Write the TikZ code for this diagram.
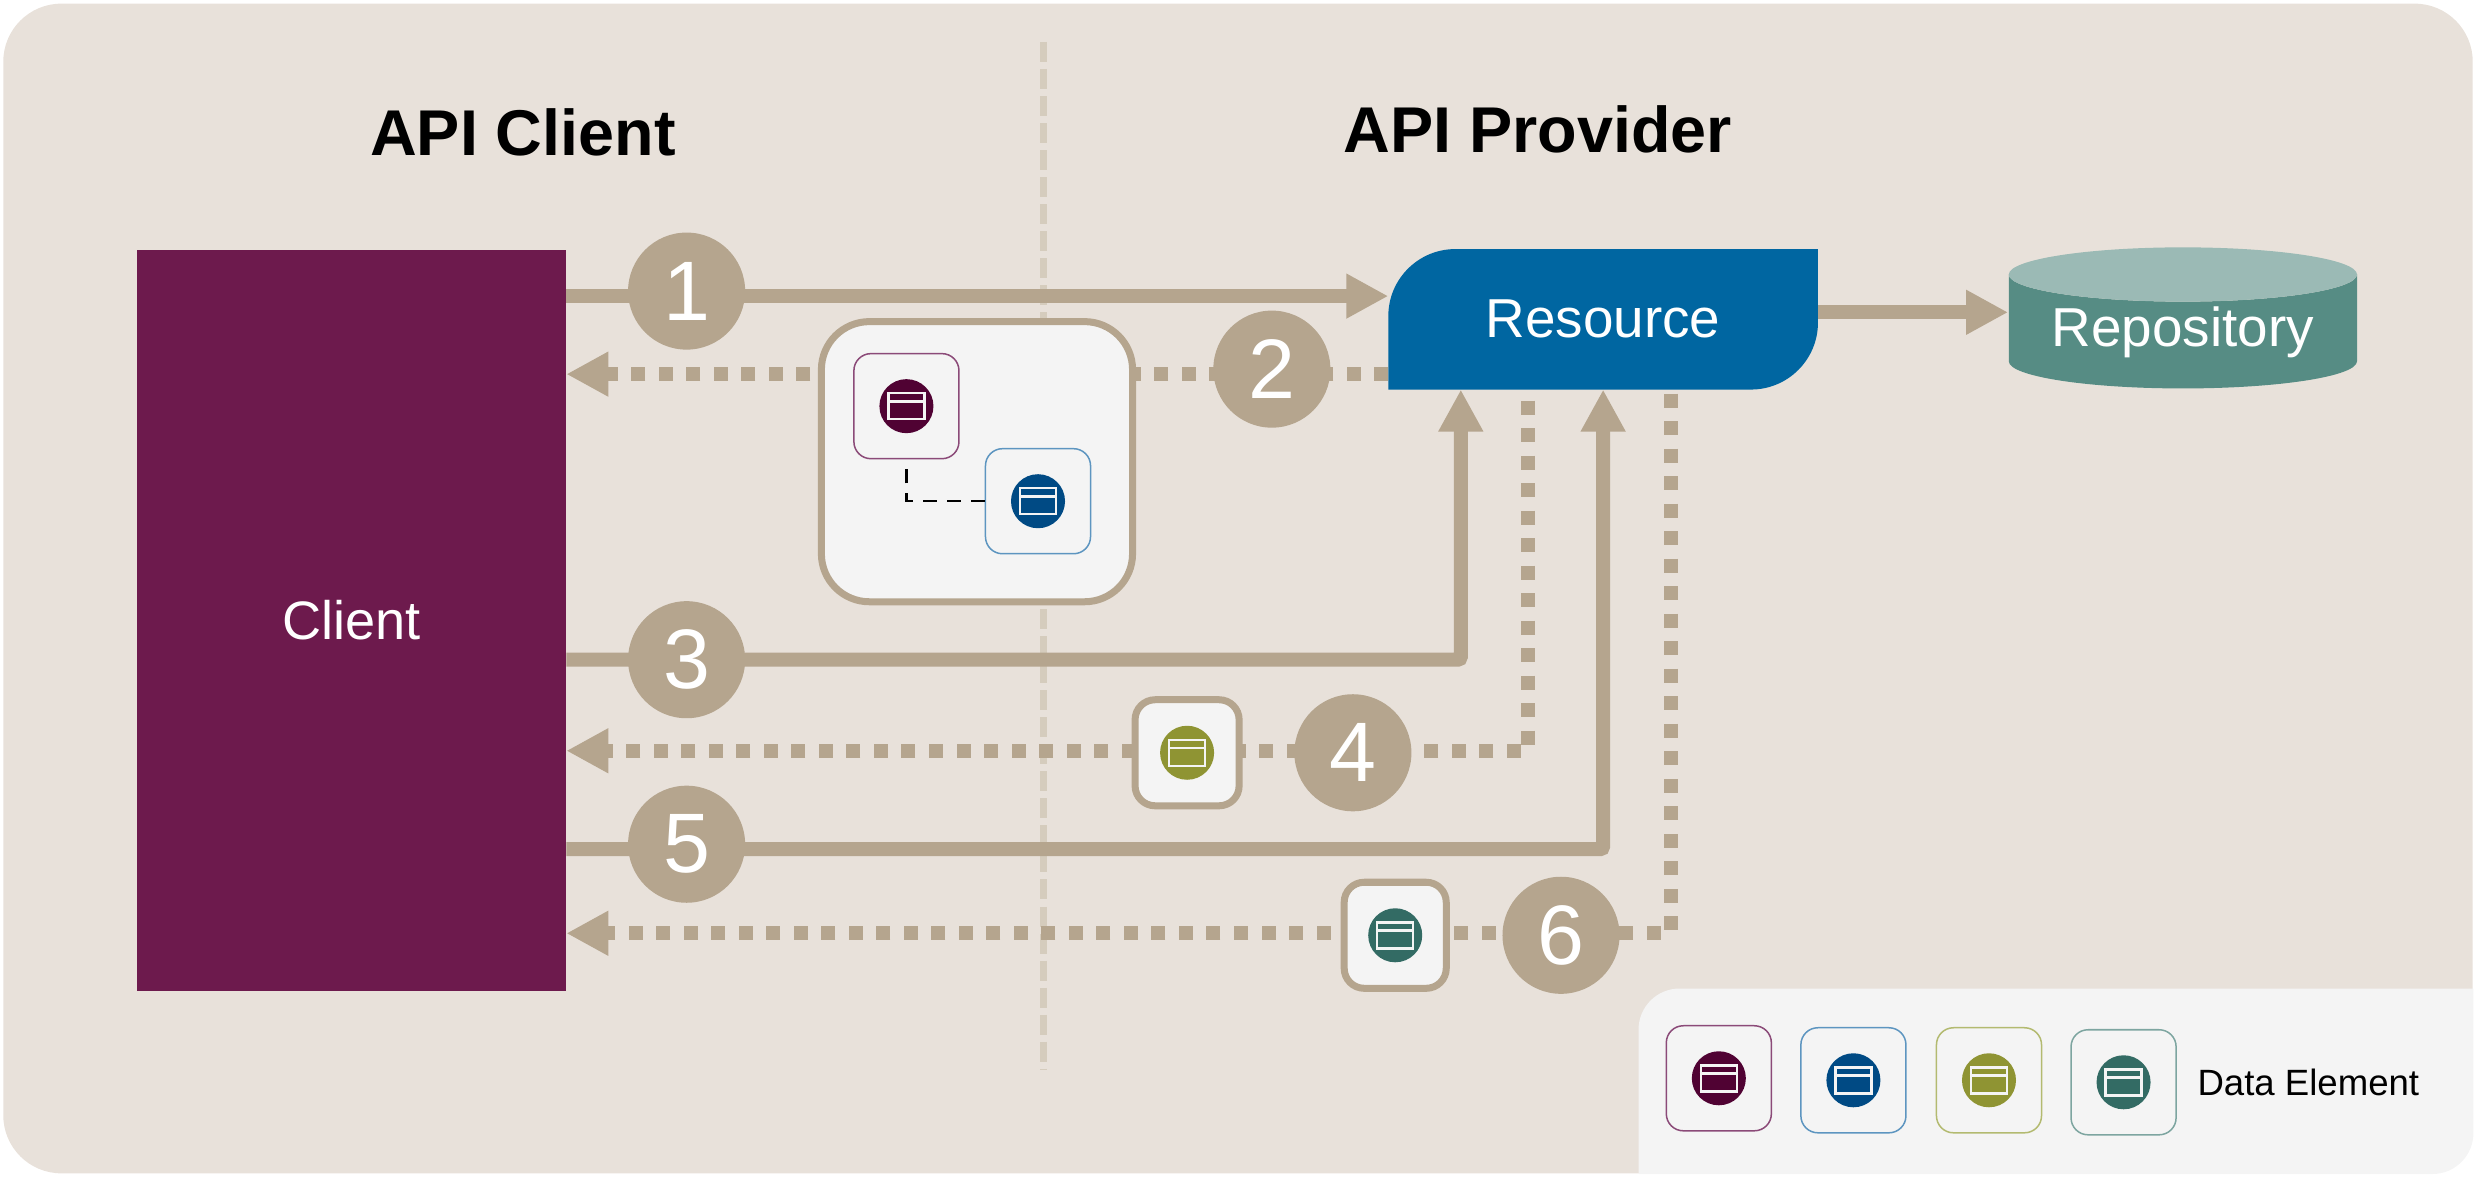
\documentclass[tikz,border=0pt]{standalone}
\usepackage{fontspec}
\setmainfont{Liberation Sans}
\usetikzlibrary{positioning,calc,arrows.meta,shapes.geometric,backgrounds}

\definecolor{sandbg}{HTML}{E8E1DA}
\definecolor{flowtan}{HTML}{B5A58E}
\definecolor{seplight}{HTML}{D5CCBD}
\definecolor{panelgray}{HTML}{F4F4F4}
\definecolor{clientplum}{HTML}{6D1A4D}
\definecolor{resblue}{HTML}{0066A1}
\definecolor{repoteal}{HTML}{568C84}
\definecolor{repotop}{HTML}{9BBAB5}
\definecolor{dotplum}{HTML}{500233}
\definecolor{dotblue}{HTML}{004A84}
\definecolor{dotolive}{HTML}{8F9433}
\definecolor{dotteal}{HTML}{336B64}
\definecolor{rimplum}{HTML}{8B4A78}
\definecolor{rimblue}{HTML}{5D95C0}
\definecolor{rimolive}{HTML}{B3BA70}
\definecolor{rimteal}{HTML}{7DA5A0}

% circle with its glyph, centred on a card or holder
\newcommand{\elemdot}[2]{%
  \node[edot, fill=#2] (#1dot) at (#1) {};
  \node[eglyph] (#1glyph) at (#1dot) {};
  \draw[ebar] ($(#1glyph.north west)!0.33!(#1glyph.south west)$) -- ($(#1glyph.north east)!0.33!(#1glyph.south east)$);
}
% card: name, placement, circle colour, rim colour
\newcommand{\elemcard}[4]{%
  \node[card, draw=#4, #2] (#1) {};
  \elemdot{#1}{#3}
}
% box with two opposite corners rounded
\newcommand{\leafshape}[3]{%
  \fill[#2] (#1.south west) [rounded corners=#3] -- (#1.north west) [sharp corners] -- (#1.north east) [rounded corners=#3] -- (#1.south east) [sharp corners] -- (#1.south west) -- cycle;
}

\begin{document}
\begin{tikzpicture}[
    x=0.01cm,
    y=-0.01cm,
    title/.style={font=\fontsize{18.4}{22}\selectfont\bfseries, inner sep=0pt},
    block/.style={text=white, font=\fontsize{15.4}{18}\selectfont, inner sep=0pt},
    num/.style={circle, fill=flowtan, text=white, inner sep=0pt, minimum size=1.17cm, font=\fontsize{24}{28}\selectfont},
    hold/.style={draw=flowtan, fill=panelgray, line width=0.07cm, rounded corners=0.2cm, inner sep=0pt},
    card/.style={fill=panelgray, line width=0.015cm, rounded corners=0.17cm, minimum size=1.05cm, inner sep=0pt},
    edot/.style={circle, minimum size=0.54cm, inner sep=0pt},
    eglyph/.style={draw=panelgray, line width=0.025cm, minimum width=0.36cm, minimum height=0.26cm, inner sep=0pt},
    ebar/.style={draw=panelgray, line width=0.025cm},
    flow/.style={line width=0.14cm, color=flowtan},
    flowtip/.style={flow, -{Triangle[length=0.42cm,width=0.42cm]}},
    dotflow/.style={flowtip, dash pattern=on 0.14cm off 0.135cm},
    sepline/.style={line width=0.07cm, color=seplight, dash pattern=on 0.2cm off 0.07cm}
]
\useasboundingbox (0,0) rectangle (2475,1177);

% ============================================================
% BACKDROP
% ============================================================
\begin{scope}[on background layer]
\node[fill=sandbg, rounded corners=0.58cm, minimum width=24.68cm, minimum height=11.69cm, inner sep=0pt] (bg) at (1238,588.5) {};
\end{scope}

% ============================================================
% MAIN BLOCKS
% ============================================================
\node[title] (clienthead) at (523,132.5) {API Client};
\node[title] (providerhead) at (1538,129) {API Provider};

\node[block, fill=clientplum, minimum width=4.28cm, minimum height=7.41cm] (client) at (351.5,620.5) {Client};
\node[block, minimum width=4.28cm, minimum height=1.39cm, right=8.215cm of client.north east, anchor=north west, font=\fontsize{15.6}{18}\selectfont] (res) {Resource};
\node[block, draw=none, cylinder, shape border rotate=90, aspect=0.207, cylinder uses custom fill, cylinder body fill=repoteal, cylinder end fill=repotop,
      minimum width=3.48cm, minimum height=1.41cm, right=1.9cm of res, yshift=-0.125cm, font=\fontsize{15.6}{18}\selectfont] (repo) {Repository};

% ============================================================
% NUMBERS AND DATA ELEMENTS
% ============================================================
\node[num, right=0.61cm of client.north east, yshift=-0.42cm] (n1) {1};
\node[num, below=2.5cm of n1] (n3) {3};
\node[num, below=0.66cm of n3] (n5) {5};
\node[num, right=4.665cm of n1, yshift=-0.78cm] (n2) {2};
\node[num, right=5.475cm of n3, yshift=-0.93cm] (n4) {4};
\node[num, right=7.555cm of n5, yshift=-0.91cm] (n6) {6};

\node[hold, rounded corners=0.48cm, minimum width=3.11cm, minimum height=2.8cm, left=0.765cm of n2, yshift=-0.925cm] (hold2) {};
\node[hold, minimum width=1.04cm, minimum height=1.06cm, left=0.51cm of n4] (hold4) {};
\node[hold, minimum width=1.02cm, minimum height=1.06cm, left=0.52cm of n6] (hold6) {};

\elemcard{purple2}{at={(hold2)}, xshift=-0.705cm, yshift=0.555cm}{dotplum}{rimplum}
\elemcard{blue2}{at={(hold2)}, xshift=0.61cm, yshift=-0.395cm}{dotblue}{rimblue}
\elemdot{hold4}{dotolive}
\elemdot{hold6}{dotteal}
\draw[black, line width=0.025cm, dash pattern=on 0.14cm off 0.1cm] (blue2.west) -| (purple2.south);

% ============================================================
% LEGEND
% ============================================================
\node[minimum width=8.33cm, minimum height=1.84cm, inner sep=0pt, anchor=south east] (legend) at (bg.south east) {};
\elemcard{legA}{right=0.27cm of legend.west, yshift=0.03cm}{dotplum}{rimplum}
\elemcard{legB}{right=0.28cm of legA, yshift=-0.02cm}{dotblue}{rimblue}
\elemcard{legC}{right=0.29cm of legB}{dotolive}{rimolive}
\elemcard{legD}{right=0.28cm of legC, yshift=-0.02cm}{dotteal}{rimteal}
\node[right=0.2cm of legD, inner sep=0pt, font=\fontsize{10.4}{12}\selectfont] (legtext) {Data Element};

% ============================================================
% CONNECTORS AND SEPARATOR
% ============================================================
\coordinate (septop) at (1043,42);
\coordinate (sepend) at (1043,1070);
\coordinate (y1) at ($(n1)+(0,5)$);
\coordinate (y2) at ($(n2)+(0,5)$);
\coordinate (y4) at ($(n4)+(0,-2)$);
\coordinate (y5) at ($(n5)+(0,5)$);
\coordinate (y6) at ($(n6)+(0,-2)$);
\coordinate (yrepo) at ($(res.east)+(0,-7)$);
\coordinate (res3) at ($(res.south west)+(72.5,0)$);
\coordinate (res4) at ($(res.south west)+(140,0)$);
\coordinate (res6) at ($(res.south west)+(283,0)$);

\begin{scope}[on background layer]
\leafshape{legend}{panelgray}{0.41cm}
\draw[sepline] (septop) -- (sepend);
\leafshape{res}{resblue}{0.67cm}

\draw[flowtip] (client.east |- y1) -- (res.west |- y1);
\draw[dotflow] (res.west |- y2) -- (client.east |- y2);
\draw[flowtip, rounded corners=0.03cm] (client.east |- n3) -| (res3);
\draw[dotflow, dash phase=0.165cm] (res4) |- (client.east |- y4);
\draw[flowtip, rounded corners=0.03cm] (client.east |- y5) -| (res.south);
\draw[dotflow, dash phase=0.235cm] (res6) |- (client.east |- y6);
\draw[flowtip] (res.east |- yrepo) -- (repo.west |- yrepo);
\end{scope}

\end{tikzpicture}
\end{document}
